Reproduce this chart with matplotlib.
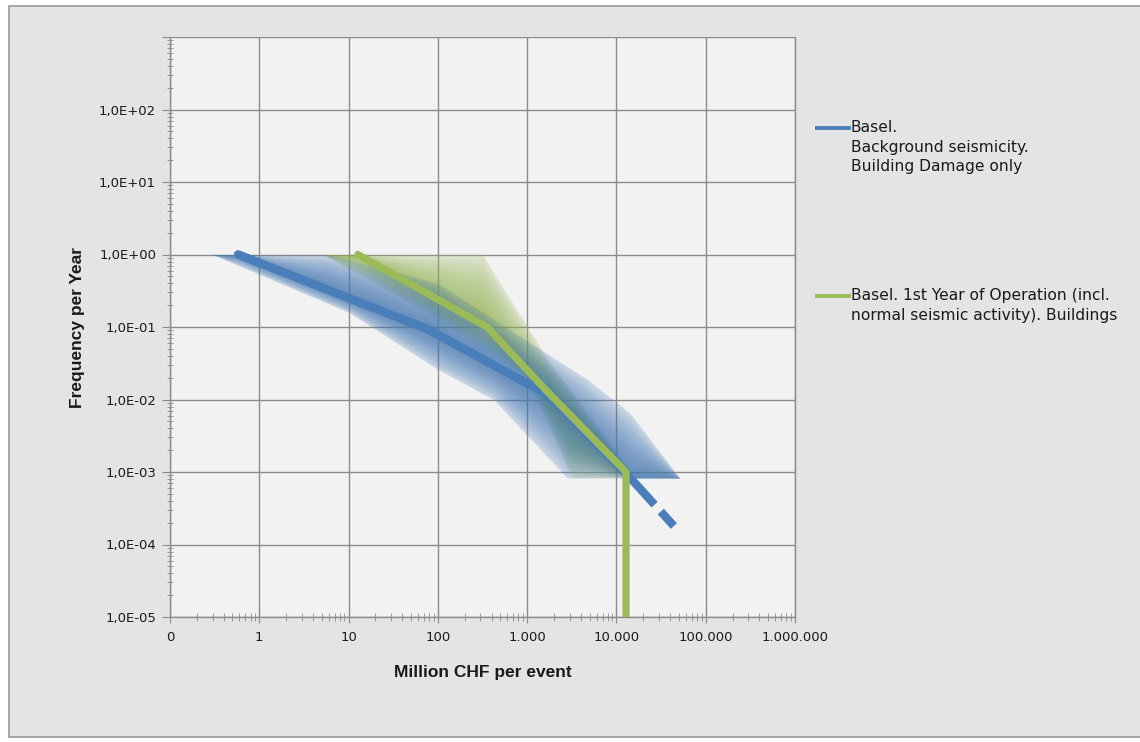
import numpy as np
import matplotlib
matplotlib.use("Agg")
from matplotlib import pyplot as plt
from matplotlib.lines import Line2D
from matplotlib.patches import Rectangle
from matplotlib.ticker import FixedLocator, LogLocator, NullFormatter, FuncFormatter

# Basel, background seismicity (building damage only)
blue_x = [0.58, 76, 1700, 12450]
blue_y = [1.0, 0.094, 0.0117, 1.0e-3]
blue_dash_x = [12450, 44000]
blue_dash_y = [1.0e-3, 1.8e-4]
# uncertainty band around it
blue_up_x = [0.3, 6, 100, 4700, 14000, 51000]
blue_up_y = [1.0, 1.0, 0.4, 0.019, 0.0066, 8.3e-4]
blue_lo_x = [0.3, 10, 100, 420, 2800, 51000]
blue_lo_y = [1.0, 0.16, 0.026, 0.01, 8.3e-4, 8.3e-4]

# Basel, 1st year of operation
green_x = [12.7, 355, 1600, 12800, 12800]
green_y = [1.0, 0.1, 0.0137, 1.0e-3, 1.0e-5]
green_up_x = [5.2, 316, 1800, 15000]
green_up_y = [1.0, 1.0, 0.032, 1.0e-3]
green_lo_x = [5.2, 80, 1000, 3200, 15000]
green_lo_y = [1.0, 0.15, 0.02, 8.3e-4, 8.3e-4]

x_ticks = [0.1, 1, 10, 100, 1e3, 1e4, 1e5, 1e6]
x_labels = ["0", "1", "10", "100", "1.000", "10.000", "100.000", "1.000.000"]
y_ticks = [1e-5, 1e-4, 1e-3, 1e-2, 1e-1, 1e0, 1e1, 1e2]
y_labels = ["1,0E-05", "1,0E-04", "1,0E-03", "1,0E-02", "1,0E-01",
            "1,0E+00", "1,0E+01", "1,0E+02"]

BLUE = "#4a7ebb"
GREEN = "#9bbb59"
GRID = "#8c8c8c"
TXT = "#1a1a1a"
TITLE_FONT = ["Liberation Sans Narrow", "Liberation Sans", "DejaVu Sans"]


def logi(xq, xs, ys):
    return np.interp(np.log10(xq), np.log10(xs), np.log10(ys))


def band(ax, line_x, line_y, ux, uy, lx, ly, color, base=0.16, layers=40, alpha=0.035):
    # soft band: light base fill plus layers that thicken towards the line
    x0 = max(min(ux), min(lx))
    x1 = min(max(ux), max(lx))
    xs = np.logspace(np.log10(x0), np.log10(x1), 600)
    up = logi(xs, ux, uy)
    lo = logi(xs, lx, ly)
    mid = np.clip(logi(xs, line_x, line_y), lo, up)
    ax.fill_between(xs, 10 ** up, 10 ** lo, color=color, alpha=base,
                    linewidth=0, antialiased=False, zorder=2)
    for k in range(layers, 0, -1):
        f = k / layers
        ax.fill_between(xs, 10 ** (mid + (up - mid) * f), 10 ** (mid + (lo - mid) * f),
                        color=color, alpha=alpha, linewidth=0, antialiased=False, zorder=2)


fig = plt.figure(figsize=(11.4, 7.42), dpi=100)
fig.patch.set_facecolor("white")
fig.patches.append(Rectangle((9 / 1140, 1 - 737 / 742), 1.0, 731 / 742, transform=fig.transFigure,
                             facecolor="#e4e4e4", edgecolor="#9a9a9a", linewidth=1.2, zorder=-10))

ax = fig.add_axes([170 / 1140, 1 - 617 / 742, 625 / 1140, 580 / 742])
ax.set_facecolor("#f2f2f2")
ax.set_xscale("log")
ax.set_yscale("log")
ax.set_xlim(0.1, 1e6)
ax.set_ylim(1e-5, 1e3)

band(ax, green_x, green_y, green_up_x, green_up_y, green_lo_x, green_lo_y, GREEN,
     base=0.18, alpha=0.032)
band(ax, blue_x + blue_dash_x, blue_y + blue_dash_y, blue_up_x, blue_up_y,
     blue_lo_x, blue_lo_y, BLUE, base=0.2, alpha=0.03)

ax.plot(blue_x, blue_y, color=BLUE, lw=6.2, solid_capstyle="round",
        solid_joinstyle="round", zorder=4)
ax.plot(blue_dash_x, blue_dash_y, color=BLUE, lw=6.0, dashes=(5.3, 1.1, 2.9, 1.1),
        dash_capstyle="butt", zorder=4)
ax.plot(green_x, green_y, color=GREEN, lw=5.2, solid_capstyle="round",
        solid_joinstyle="miter", zorder=5)

# axes, grid, ticks
ax.spines["top"].set_visible(False)
for s in ["left", "bottom", "right"]:
    ax.spines[s].set_color(GRID)
    ax.spines[s].set_linewidth(1.0)
ax.xaxis.set_major_locator(FixedLocator(x_ticks))
ax.yaxis.set_major_locator(FixedLocator(y_ticks + [1e3]))
ax.set_xticklabels(x_labels)
ax.yaxis.set_major_formatter(FuncFormatter(
    lambda v, p: y_labels[y_ticks.index(v)] if v in y_ticks else ""))
ax.xaxis.set_minor_locator(LogLocator(base=10, subs=np.arange(2, 10), numticks=20))
ax.yaxis.set_minor_locator(LogLocator(base=10, subs=np.arange(2, 10), numticks=20))
ax.xaxis.set_minor_formatter(NullFormatter())
ax.yaxis.set_minor_formatter(NullFormatter())
ax.grid(True, which="major", color=GRID, linewidth=1.0, zorder=1)
ax.set_axisbelow(True)
ax.tick_params(axis="x", which="major", direction="inout", length=8, color=GRID,
               labelsize=9.5, labelcolor=TXT, pad=6)
ax.tick_params(axis="x", which="minor", direction="inout", length=6, color=GRID)
ax.tick_params(axis="y", which="major", direction="out", length=6, color=GRID,
               labelsize=9.5, labelcolor=TXT, pad=4)
ax.tick_params(axis="y", which="minor", direction="inout", length=5, color=GRID)
ax.tick_params(which="both", right=False, top=False)

ax.set_xlabel("Million CHF per event", family=TITLE_FONT,
              fontweight="bold", fontsize=12.5, color=TXT, labelpad=15)
ax.set_ylabel("Frequency per Year", family=TITLE_FONT,
              fontweight="bold", fontsize=12.5, color=TXT, labelpad=10)

# legend
leg_font = dict(fontsize=11.2, color=TXT, va="top", ha="left", linespacing=1.38)
fig.add_artist(Line2D([817 / 1140, 849 / 1140], [1 - 128 / 742] * 2, color=BLUE, lw=2.8))
fig.text(851 / 1140, 1 - 120 / 742,
         "Basel.\nBackground seismicity.\nBuilding Damage only", **leg_font)
fig.add_artist(Line2D([817 / 1140, 849 / 1140], [1 - 296 / 742] * 2, color=GREEN, lw=2.8))
fig.text(851 / 1140, 1 - 288 / 742,
         "Basel. 1st Year of Operation (incl.\nnormal seismic activity). Buildings", **leg_font)

plt.savefig("out.png", dpi=100, facecolor=fig.get_facecolor())
plt.close()
